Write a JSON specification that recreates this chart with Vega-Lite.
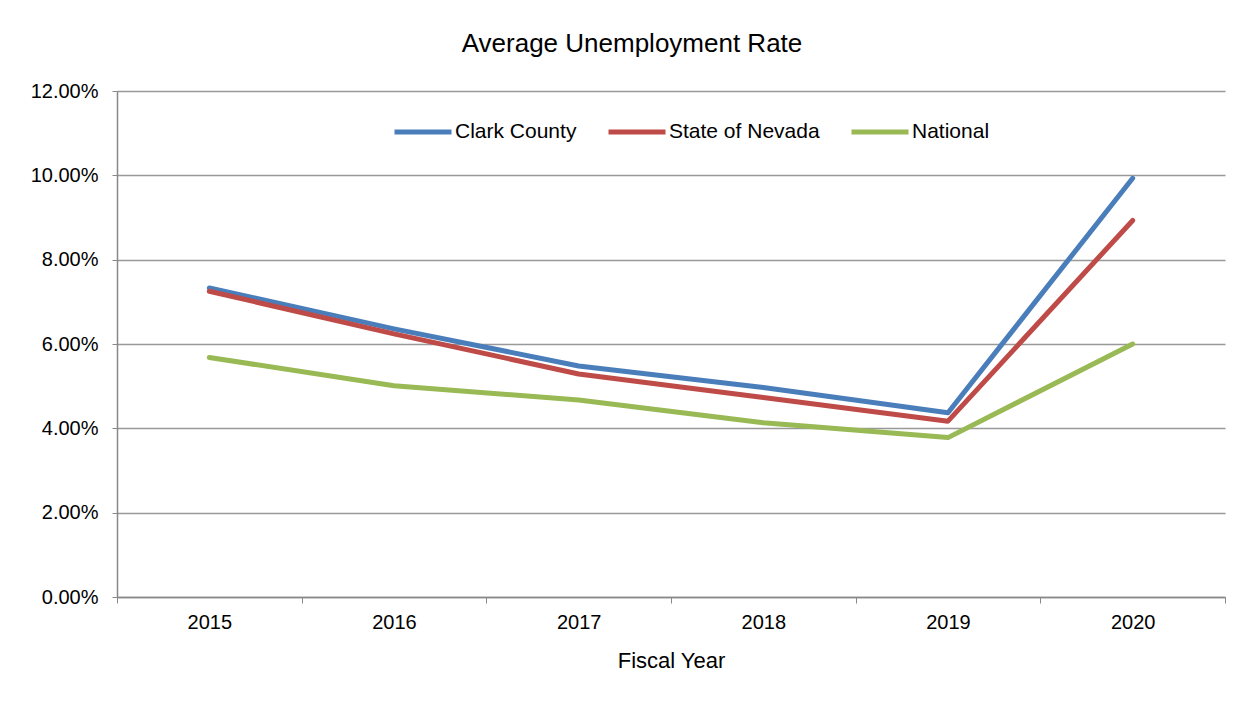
{
  "$schema": "https://vega.github.io/schema/vega-lite/v6.json",
  "autosize": {"type": "none"},
  "padding": {"left": 117, "top": 91, "right": 25, "bottom": 129},
  "width": 1108,
  "height": 506,
  "background": "white",
  "title": {
    "text": "Average Unemployment Rate",
    "fontSize": 26,
    "font": "Liberation Sans",
    "fontWeight": "normal",
    "color": "#000000",
    "anchor": "middle",
    "dx": -39,
    "offset": 24
  },
  "data": {
    "values": [
      {"year": "2015", "series": "Clark County", "rate": 0.0733},
      {"year": "2016", "series": "Clark County", "rate": 0.0636},
      {"year": "2017", "series": "Clark County", "rate": 0.0548},
      {"year": "2018", "series": "Clark County", "rate": 0.0497},
      {"year": "2019", "series": "Clark County", "rate": 0.0437},
      {"year": "2020", "series": "Clark County", "rate": 0.0993},
      {"year": "2015", "series": "State of Nevada", "rate": 0.0725},
      {"year": "2016", "series": "State of Nevada", "rate": 0.0624},
      {"year": "2017", "series": "State of Nevada", "rate": 0.0529},
      {"year": "2018", "series": "State of Nevada", "rate": 0.0473},
      {"year": "2019", "series": "State of Nevada", "rate": 0.0417},
      {"year": "2020", "series": "State of Nevada", "rate": 0.0893},
      {"year": "2015", "series": "National", "rate": 0.0568},
      {"year": "2016", "series": "National", "rate": 0.0501},
      {"year": "2017", "series": "National", "rate": 0.0467},
      {"year": "2018", "series": "National", "rate": 0.0413},
      {"year": "2019", "series": "National", "rate": 0.0378},
      {"year": "2020", "series": "National", "rate": 0.0600}
    ]
  },
  "mark": {"type": "line", "strokeWidth": 5, "strokeCap": "round", "strokeJoin": "round"},
  "encoding": {
    "x": {
      "field": "year",
      "type": "ordinal",
      "scale": {"type": "band", "paddingInner": 0, "paddingOuter": 0},
      "axis": {
        "title": "Fiscal Year",
        "titleFont": "Liberation Sans",
        "titleFontSize": 22,
        "titleFontWeight": "normal",
        "titleColor": "#000000",
        "titlePadding": 18,
        "labelFont": "Liberation Sans",
        "labelFontSize": 20,
        "labelColor": "#000000",
        "labelAngle": 0,
        "labelPadding": 9,
        "tickBand": "extent",
        "tickSize": 6,
        "tickColor": "#888888",
        "domainColor": "#888888",
        "domainWidth": 1.5,
        "grid": false
      }
    },
    "y": {
      "field": "rate",
      "type": "quantitative",
      "scale": {"domain": [0, 0.12]},
      "axis": {
        "title": null,
        "format": ".2%",
        "values": [0, 0.02, 0.04, 0.06, 0.08, 0.1, 0.12],
        "labelFont": "Liberation Sans",
        "labelFontSize": 20,
        "labelColor": "#000000",
        "labelPadding": 14,
        "tickSize": 5,
        "tickColor": "#888888",
        "domainColor": "#888888",
        "domainWidth": 1.5,
        "grid": true,
        "gridColor": "#999999",
        "gridWidth": 1.5
      }
    },
    "color": {
      "field": "series",
      "type": "nominal",
      "sort": ["Clark County", "State of Nevada", "National"],
      "scale": {
        "domain": ["Clark County", "State of Nevada", "National"],
        "range": ["#4A7EBB", "#BE4B48", "#98B954"]
      },
      "legend": {
        "title": null,
        "orient": "none",
        "direction": "horizontal",
        "legendX": 275,
        "legendY": 10,
        "padding": 0,
        "symbolType": "stroke",
        "symbolSize": 3249,
        "symbolStrokeWidth": 5,
        "labelFont": "Liberation Sans",
        "labelFontSize": 21,
        "labelColor": "#000000",
        "labelOffset": 1,
        "columnPadding": 21
      }
    }
  },
  "config": {"view": {"stroke": null}}
}
